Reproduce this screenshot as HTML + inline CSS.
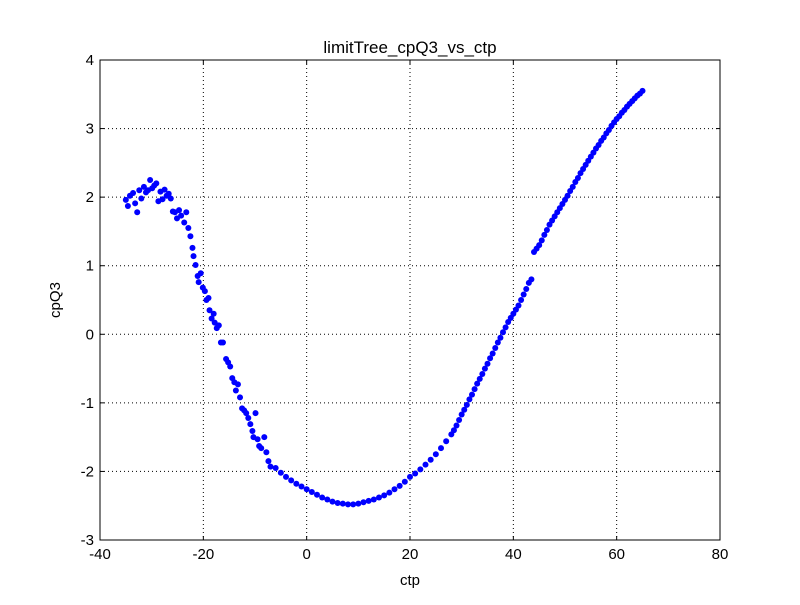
<!DOCTYPE html>
<html><head><meta charset="utf-8"><style>
body{margin:0;background:#fff;}
svg text{font-family:"Liberation Sans",sans-serif;fill:#000;}
</style></head><body>
<svg width="800" height="600">
<rect width="800" height="600" fill="#fff"/>
<g id="grid"></g>
<g id="pts"></g>
<rect x="100" y="60" width="620" height="480" fill="none" stroke="#000" stroke-width="1"/>
<g id="ticks"></g>
<text x="410" y="53" font-size="17" text-anchor="middle">limitTree_cpQ3_vs_ctp</text>
<text x="410" y="585" font-size="15" text-anchor="middle">ctp</text>
<text x="60" y="300" font-size="15" text-anchor="middle" transform="rotate(-90 60 300)">cpQ3</text>
</svg>
<script>
const xTicks=[-40,-20,0,20,40,60,80];
const yTicks=[-3,-2,-1,0,1,2,3,4];
const ctpScatter=[-35,-34.6,-34.2,-33.6,-33.2,-32.8,-32.4,-32,-31.5,-31.1,-30.7,-30.3,-29.9,-29.5,-29.1,-28.7,-28.3,-27.9,-27.5,-27.1,-26.7,-26.3,-25.9,-25.5,-25.1,-24.7,-24.3,-23.7,-23.3,-22.9,-22.5,-22.1,-21.9,-21.5,-21.1,-20.9,-20.5,-20.1,-19.7,-19.4,-19,-18.8,-18.4,-18,-17.8,-17.4,-17,-16.6,-16.2,-15.6,-15.2,-14.8,-14.4,-14,-13.7,-13.3,-12.9,-12.5,-12.1,-11.7,-11.3,-10.9,-10.5,-10.3,-9.9,-9.5,-9.2,-8.8,-8.2,-7.8,-7.4,-7];
const cpScatter=[1.96,1.87,2.02,2.06,1.91,1.78,2.10,1.98,2.15,2.07,2.10,2.25,2.13,2.17,2.20,1.94,2.08,1.97,2.11,2.02,2.05,1.98,1.79,1.78,1.69,1.81,1.73,1.63,1.78,1.55,1.43,1.26,1.14,1.01,0.85,0.76,0.89,0.68,0.63,0.50,0.53,0.35,0.23,0.30,0.17,0.09,0.13,-0.12,-0.12,-0.36,-0.41,-0.47,-0.64,-0.70,-0.82,-0.73,-0.92,-1.08,-1.11,-1.15,-1.22,-1.31,-1.41,-1.50,-1.15,-1.53,-1.63,-1.66,-1.50,-1.72,-1.85,-1.93];
const ctpCurve=[-6,-5,-4,-3,-2,-1,0,1,2,3,4,5,6,7,8,9,10,11,12,13,14,15,16,17,18,19,20,21,22,23,24,25,26,27,28,28.5,29,29.5,30,30.5,31,31.5,32,32.5,33,33.5,34,34.5,35,35.5,36,36.5,37,37.5,38,38.5,39,39.5,40,40.5,41,41.5,42,42.5,43,43.5,44,44.5,45,45.5,46,46.5,47,47.5,48,48.5,49,49.5,50,50.5,51,51.5,52,52.5,53,53.5,54,54.5,55,55.5,56,56.5,57,57.5,58,58.5,59,59.5,60,60.5,61,61.5,62,62.5,63,63.5,64,64.5,65];
const cpCurve=[-1.95,-2.02,-2.08,-2.13,-2.18,-2.22,-2.26,-2.30,-2.34,-2.38,-2.41,-2.44,-2.46,-2.47,-2.48,-2.48,-2.47,-2.45,-2.43,-2.41,-2.38,-2.35,-2.31,-2.26,-2.21,-2.15,-2.08,-2.03,-1.97,-1.90,-1.83,-1.75,-1.66,-1.56,-1.46,-1.40,-1.33,-1.25,-1.17,-1.10,-1.03,-0.95,-0.88,-0.80,-0.72,-0.65,-0.58,-0.50,-0.43,-0.35,-0.28,-0.20,-0.12,-0.05,0.03,0.10,0.18,0.24,0.30,0.36,0.42,0.50,0.58,0.66,0.75,0.80,1.20,1.25,1.30,1.37,1.45,1.52,1.60,1.66,1.72,1.78,1.84,1.90,1.96,2.02,2.09,2.15,2.22,2.28,2.35,2.41,2.47,2.53,2.59,2.65,2.71,2.76,2.82,2.87,2.93,2.98,3.04,3.09,3.14,3.18,3.23,3.27,3.32,3.36,3.40,3.44,3.48,3.51,3.55];
const NS="http://www.w3.org/2000/svg";
const X=v=>100+(v+40)*620/120;
const Y=v=>540-(v+3)*480/7;
const grid=document.getElementById('grid'),ticks=document.getElementById('ticks'),pts=document.getElementById('pts');
function mk(tag,attrs,parent){const e=document.createElementNS(NS,tag);for(const k in attrs)e.setAttribute(k,attrs[k]);parent.appendChild(e);return e;}
xTicks.forEach(t=>{
  const x=X(t);
  const g=mk('line',{x1:x,x2:x,y1:60,y2:540,stroke:'#000','stroke-dasharray':'1,3','stroke-width':1},grid);
  
  
  mk('line',{x1:x,x2:x,y1:540,y2:536,stroke:'#000'},ticks);
  mk('line',{x1:x,x2:x,y1:60,y2:64,stroke:'#000'},ticks);
  const l=mk('text',{x:x,y:559,'font-size':15,'text-anchor':'middle'},ticks);
  l.textContent=t;
  
  
});
yTicks.forEach(t=>{
  const y=Y(t);
  const g=mk('line',{x1:100,x2:720,y1:y,y2:y,stroke:'#000','stroke-dasharray':'1,3','stroke-width':1},grid);
  
  
  mk('line',{x1:100,x2:104,y1:y,y2:y,stroke:'#000'},ticks);
  mk('line',{x1:716,x2:720,y1:y,y2:y,stroke:'#000'},ticks);
  const l=mk('text',{x:94,y:y+5,'font-size':15,'text-anchor':'end'},ticks);
  l.textContent=t;
  
  
});
function dots(xs,ys){xs.forEach((v,i)=>{
  const c=mk('circle',{cx:X(v),cy:Y(ys[i]),r:3,fill:'#0000ff'},pts);
  
  
});}
dots(ctpScatter,cpScatter);
dots(ctpCurve,cpCurve);
</script>
</body></html>
